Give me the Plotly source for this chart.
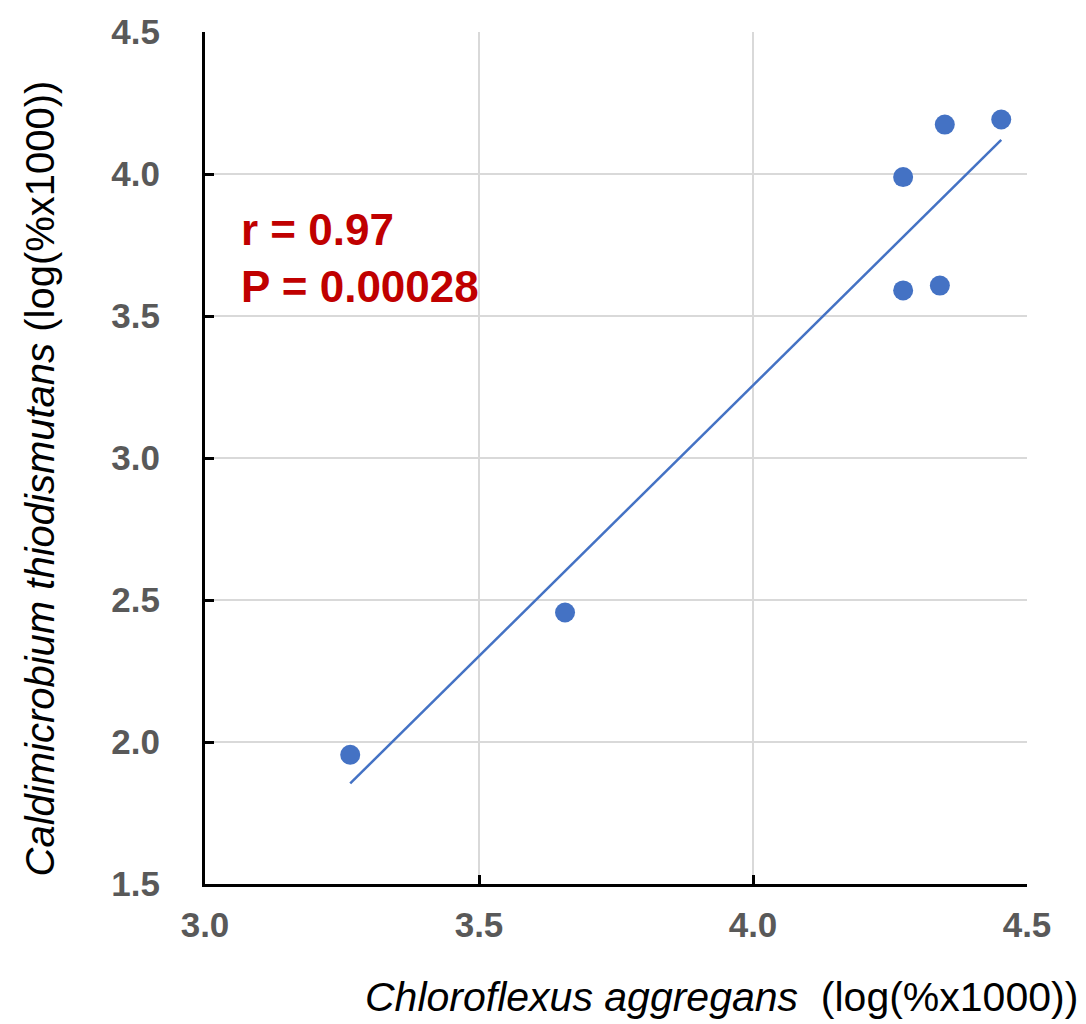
import numpy as np
import plotly.graph_objects as go

# Data (log(%x1000))
chloroflexus = [3.265, 3.657, 4.274, 4.274, 4.341, 4.350, 4.453]
caldimicrobium = [1.955, 2.456, 3.989, 3.590, 3.607, 4.174, 4.192]
x_ticks = [3.0, 3.5, 4.0, 4.5]
y_ticks = [1.5, 2.0, 2.5, 3.0, 3.5, 4.0, 4.5]
stats_text = "<b>r = 0.97<br>P = 0.00028</b>"

blue = "#4472C4"
grey = "#595959"
font = "Liberation Sans, Arial, sans-serif"

xs = np.array(chloroflexus)
ys = np.array(caldimicrobium)
slope, intercept = np.polyfit(xs, ys, 1)
fx = np.array([xs.min(), xs.max()])
fy = slope * fx + intercept

fig = go.Figure()
fig.add_trace(go.Scatter(x=fx, y=fy, mode="lines",
                         line=dict(color=blue, width=2.5), hoverinfo="skip"))
fig.add_trace(go.Scatter(x=chloroflexus, y=caldimicrobium, mode="markers",
                         marker=dict(color=blue, size=20, line=dict(width=0))))

axis_common = dict(showline=True, linecolor="black", linewidth=3,
                   ticks="inside", ticklen=9, tickwidth=3, tickcolor="black",
                   showgrid=True, gridcolor="#d9d9d9", gridwidth=1.5,
                   zeroline=False, mirror=False,
                   tickfont=dict(family=font, size=35, color=grey, weight="bold"),
                   tickformat=".1f")

fig.update_xaxes(range=[3.0, 4.5], tickvals=x_ticks, ticklabelstandoff=8, **axis_common)
fig.update_yaxes(range=[1.5, 4.5], tickvals=y_ticks, ticklabelstandoff=35, **axis_common)

fig.add_annotation(xref="paper", yref="paper", x=0.041, y=0.735,
                   xanchor="left", yanchor="middle", align="left",
                   text=stats_text, showarrow=False,
                   font=dict(family=font, size=44, color="#C00000"))
fig.add_annotation(xref="paper", yref="paper", x=-0.2007, y=0.476,
                   xanchor="center", yanchor="middle", textangle=-90,
                   text="<i>Caldimicrobium thiodismutans</i> (log(%x1000))",
                   showarrow=False, font=dict(family=font, size=40, color="black"))
fig.add_annotation(xref="paper", yref="paper", x=1.0645, y=-0.133,
                   xanchor="right", yanchor="middle",
                   text="<i>Chloroflexus aggregans</i>  (log(%x1000))",
                   showarrow=False, font=dict(family=font, size=41, color="black"))

fig.update_layout(width=1086, height=1024, showlegend=False,
                  plot_bgcolor="white", paper_bgcolor="white",
                  margin=dict(l=205, r=59, t=24, b=140))

fig.write_html("out.html", config={"displayModeBar": False},
               post_script="document.body.style.margin='0';document.body.style.overflow='hidden';")
